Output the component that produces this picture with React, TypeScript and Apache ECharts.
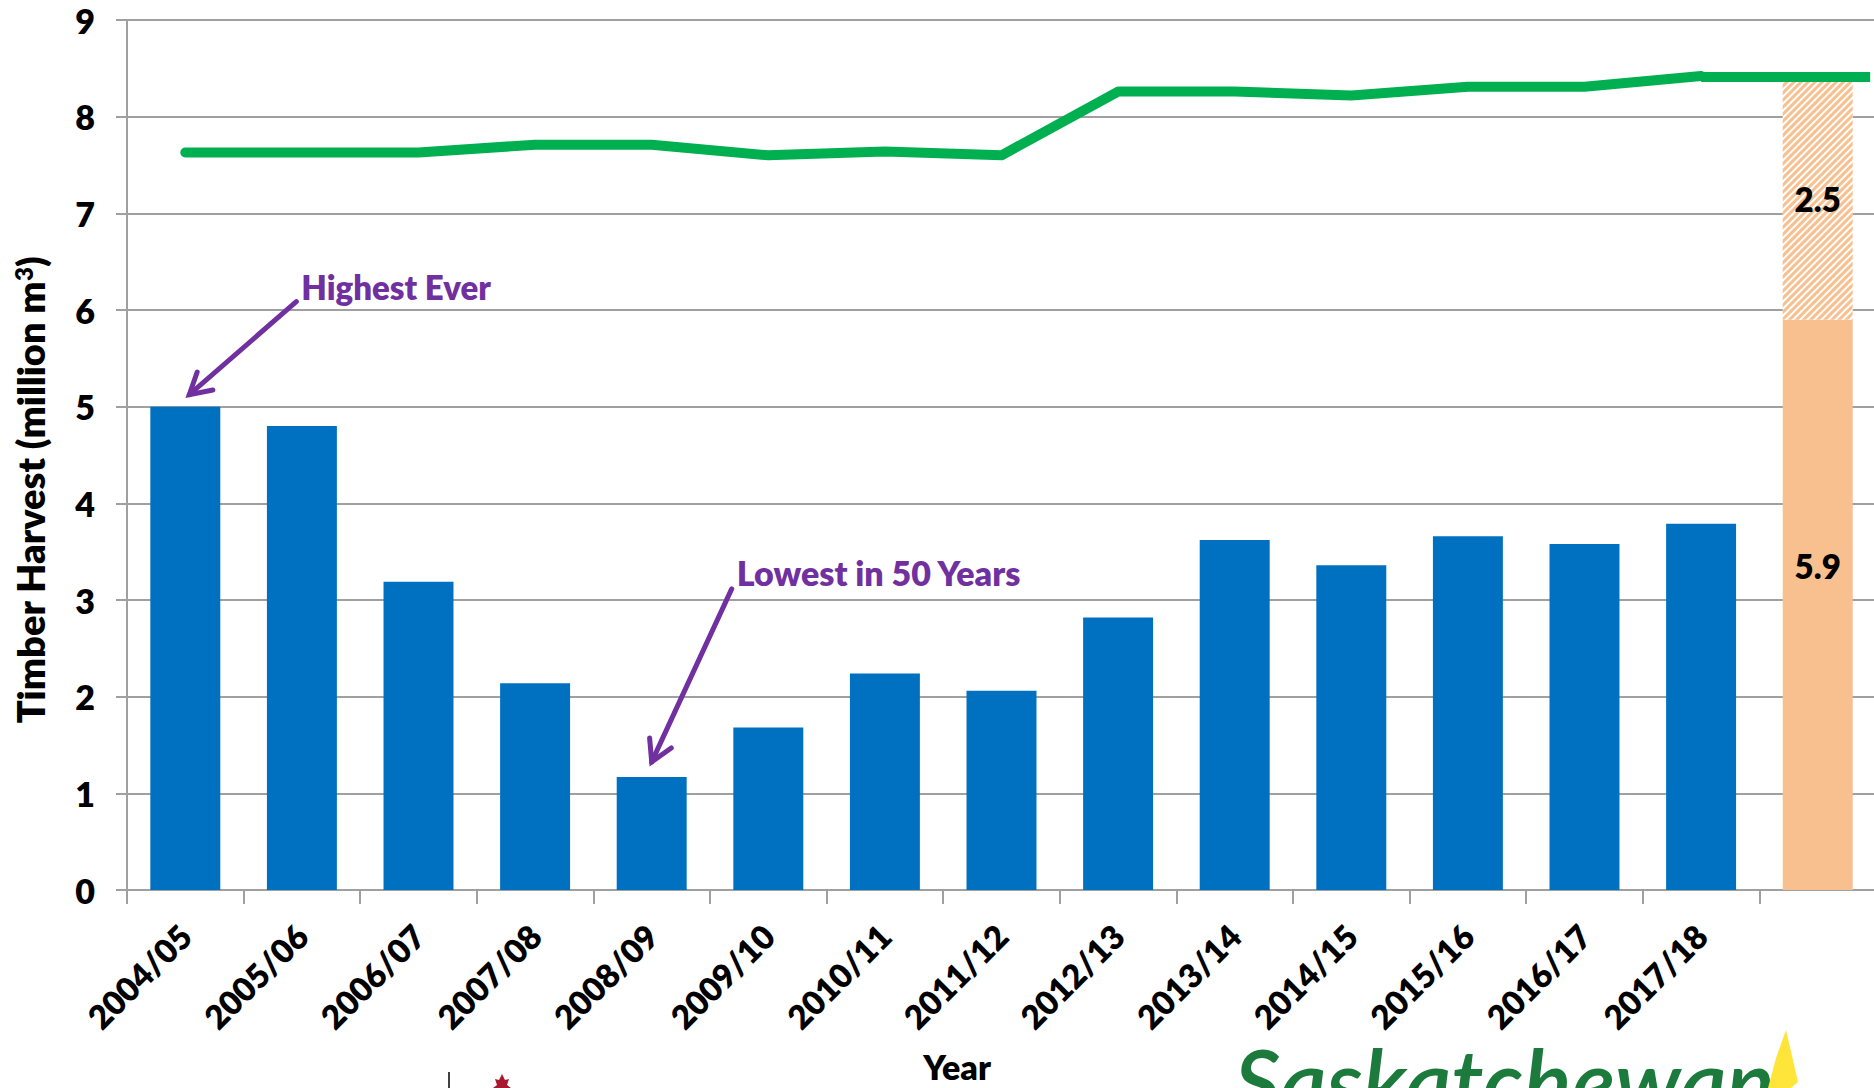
import React, { useEffect, useRef } from "react";
import * as echarts from "echarts";

// ---------- data ----------
const years = [
  "2004/05", "2005/06", "2006/07", "2007/08", "2008/09", "2009/10", "2010/11",
  "2011/12", "2012/13", "2013/14", "2014/15", "2015/16", "2016/17", "2017/18", "",
];
const harvest = [5.0, 4.8, 3.19, 2.14, 1.17, 1.68, 2.24, 2.06, 2.82, 3.62, 3.36, 3.66, 3.58, 3.79, null];
const projectedHarvest = [null, null, null, null, null, null, null, null, null, null, null, null, null, null, 5.9];
const projectedGap = [null, null, null, null, null, null, null, null, null, null, null, null, null, null, 2.5];
const sustainableHarvest = [7.63, 7.63, 7.63, 7.71, 7.71, 7.6, 7.64, 7.6, 8.26, 8.26, 8.22, 8.31, 8.31, 8.42, null];
// continuation of the sustainable-harvest line across the projection column (x in category units)
const sustainableExtensionX = [13.5, 14.95];
const sustainableExtensionY = [8.41, 8.41];
const yTicks = [0, 1, 2, 3, 4, 5, 6, 7, 8, 9];
const annotationTexts = ["Highest Ever", "Lowest in 50 Years"];
const annotationCategories = ["2004/05", "2008/09"];
const annotationValues = [5.0, 1.17];

const FONT = "Lato, 'Open Sans', sans-serif";
const W = 800;
const BLUE = "#0070C0";
const GREEN = "#00B050";
const ORANGE = "#F8BF8F";
const PURPLE = "#7030A0";
const GRAY = "#A0A0A0";

export default function App() {
  const ref = useRef<HTMLDivElement>(null);

  useEffect(() => {
    document.body.style.margin = "0";
    const chart = echarts.init(ref.current!, null, { renderer: "svg" });

    const option: any = {
      animation: false,
      backgroundColor: "#ffffff",
      grid: { left: 127, top: 20, width: 1749, height: 870, outerBoundsMode: "none", containLabel: false },
      xAxis: [
        {
          type: "category",
          data: years,
          axisLine: { show: true, lineStyle: { color: GRAY, width: 2 } },
          axisTick: { show: true, length: 14, lineStyle: { color: GRAY, width: 2 } },
          axisLabel: {
            interval: 0,
            rotate: 45,
            margin: 40,
            fontFamily: FONT,
            fontWeight: W,
            fontSize: 33,
            color: "#000",
          },
        },
        { type: "value", min: 0, max: years.length, show: false },
      ],
      yAxis: {
        type: "value",
        min: yTicks[0],
        max: yTicks[yTicks.length - 1],
        interval: yTicks[1] - yTicks[0],
        axisLine: { show: true, lineStyle: { color: GRAY, width: 2 } },
        axisTick: { show: true, length: 11, lineStyle: { color: GRAY, width: 2 } },
        splitLine: { show: true, lineStyle: { color: GRAY, width: 2 } },
        axisLabel: { margin: 32, fontFamily: FONT, fontWeight: W, fontSize: 34, color: "#000" },
      },
      series: [
        {
          name: "Harvest",
          type: "bar",
          stack: "h",
          barWidth: "60%",
          data: harvest,
          itemStyle: { color: BLUE },
        },
        {
          name: "Projected",
          type: "bar",
          stack: "h",
          data: projectedHarvest,
          itemStyle: { color: ORANGE },
          label: {
            show: true,
            position: "inside",
            offset: [0, -39],
            formatter: (p: any) => (p.value == null ? "" : Number(p.value).toFixed(1)),
            fontFamily: FONT,
            fontWeight: W,
            fontSize: 33,
            color: "#000",
          },
        },
        {
          name: "Gap",
          type: "bar",
          stack: "h",
          data: projectedGap,
          itemStyle: {
            color: "#ffffff",
            decal: {
              symbol: "rect",
              symbolSize: 1,
              color: ORANGE,
              backgroundColor: "#ffffff",
              dashArrayX: [1, 0],
              dashArrayY: [3, 2],
              rotation: -Math.PI / 4,
            },
          },
          label: {
            show: true,
            position: "inside",
            formatter: (p: any) => (p.value == null ? "" : Number(p.value).toFixed(1)),
            fontFamily: FONT,
            fontWeight: W,
            fontSize: 33,
            color: "#000",
          },
        },
        {
          name: "Sustainable",
          type: "line",
          data: sustainableHarvest,
          symbol: "none",
          lineStyle: { color: GREEN, width: 10, cap: "round", join: "round" },
          z: 5,
        },
        {
          name: "SustainableExt",
          type: "line",
          xAxisIndex: 1,
          data: sustainableExtensionX.map((x, i) => [x, sustainableExtensionY[i]]),
          symbol: "none",
          lineStyle: { color: GREEN, width: 10, cap: "butt" },
          z: 5,
        },
      ],
    };
    chart.setOption(option);

    // annotations anchored to data points
    const tailOffsets = [
      [107, -93],
      [80, -173],
    ];
    const tipOffsets = [
      [4, -12],
      [0, -15],
    ];
    const textOffsets = [
      [112, -108],
      [85, -189],
    ];
    const graphics: any[] = [];
    annotationTexts.forEach((t, i) => {
      const p = chart.convertToPixel({ xAxisIndex: 0, yAxisIndex: 0 }, [annotationCategories[i], annotationValues[i]]) as number[];
      const tip = [p[0] + tipOffsets[i][0], p[1] + tipOffsets[i][1]];
      const tail = [tip[0] + tailOffsets[i][0], tip[1] + tailOffsets[i][1]];
      const ang = Math.atan2(tail[1] - tip[1], tail[0] - tip[0]);
      const L = 24;
      const a1 = [tip[0] + L * Math.cos(ang + 0.52), tip[1] + L * Math.sin(ang + 0.52)];
      const a2 = [tip[0] + L * Math.cos(ang - 0.52), tip[1] + L * Math.sin(ang - 0.52)];
      graphics.push({
        type: "line",
        shape: { x1: tail[0], y1: tail[1], x2: tip[0], y2: tip[1] },
        style: { stroke: PURPLE, lineWidth: 5, lineCap: "round" },
        z: 10,
      });
      graphics.push({
        type: "polyline",
        shape: { points: [a1, tip, a2] },
        style: { stroke: PURPLE, lineWidth: 5, lineCap: "round", lineJoin: "miter", fill: null },
        z: 10,
      });
      graphics.push({
        type: "text",
        x: tip[0] + textOffsets[i][0],
        y: tip[1] + textOffsets[i][1],
        style: {
          text: t,
          fill: PURPLE,
          font: `${W} ${i === 0 ? 33 : 34}px ${FONT}`,
          align: "left",
          verticalAlign: "middle",
        },
        z: 10,
      });
    });

    // axis titles
    graphics.push({
      type: "text",
      x: 957,
      y: 1066,
      style: { text: "Year", fill: "#000", font: `${W} 34px ${FONT}`, align: "center", verticalAlign: "middle" },
    });
    graphics.push({
      type: "text",
      x: 30,
      y: 490,
      rotation: Math.PI / 2,
      style: {
        text: "Timber Harvest (million m{s|3})",
        fill: "#000",
        font: `${W} 38px ${FONT}`,
        align: "center",
        verticalAlign: "middle",
        rich: { s: { fontSize: 24, fontWeight: W, fontFamily: FONT, fill: "#000", verticalAlign: "top", lineHeight: 38 } },
      },
    });

    // partial logos at the bottom edge
    graphics.push({
      type: "text",
      x: 1234,
      y: 1035,
      style: { text: "Saskatchewan", fill: "#1B7A3C", font: `italic 600 90px ${FONT}`, align: "left", verticalAlign: "top" },
    });
    graphics.push({
      type: "polygon",
      shape: { points: [[1768, 1088], [1776, 1058], [1786, 1030], [1792, 1056], [1798, 1082], [1791, 1088]] },
      style: { fill: "#FFE43A" },
    });
    graphics.push({
      type: "line",
      shape: { x1: 449, y1: 1072, x2: 449, y2: 1088 },
      style: { stroke: "#000", lineWidth: 1.5 },
    });
    graphics.push({
      type: "polygon",
      shape: {
        points: [[502, 1074], [505, 1080], [509, 1079], [507, 1085], [511, 1088], [493, 1088], [497, 1085], [495, 1079], [499, 1080]],
      },
      style: { fill: "#A6192E" },
    });

    chart.setOption({ graphic: graphics });

    return () => chart.dispose();
  }, []);

  return <div ref={ref} style={{ width: 1874, height: 1088 }} />;
}
